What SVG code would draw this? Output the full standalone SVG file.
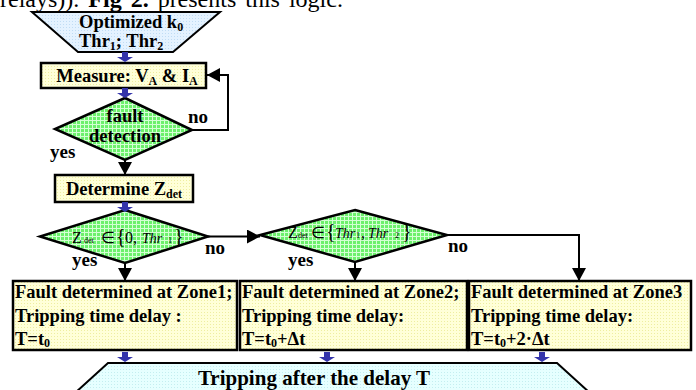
<svg xmlns="http://www.w3.org/2000/svg" width="696" height="390" viewBox="0 0 696 390">
  <defs>
    <pattern id="gridGreen" width="4" height="4" patternUnits="userSpaceOnUse">
      <rect width="4" height="4" fill="#6cf06c"/>
      <path d="M0,0.5 H4 M0.5,0 V4" stroke="#d4ffd4" stroke-width="1"/>
    </pattern>
    <pattern id="dotYellow" width="3" height="3" patternUnits="userSpaceOnUse">
      <rect width="3" height="3" fill="#ffffd8"/>
      <rect x="0" y="0" width="1" height="1" fill="#eeeea0"/>
    </pattern>
    <pattern id="dotBlue" width="3" height="3" patternUnits="userSpaceOnUse">
      <rect width="3" height="3" fill="#e4f2ff"/>
      <rect x="0" y="0" width="1" height="1" fill="#c0dcf4"/>
    </pattern>
    <pattern id="dotCyan" width="3" height="3" patternUnits="userSpaceOnUse">
      <rect width="3" height="3" fill="#e6ffff"/>
      <rect x="0" y="0" width="1" height="1" fill="#c4eef0"/>
    </pattern>
    <marker id="head" markerUnits="userSpaceOnUse" markerWidth="14" markerHeight="14" refX="13" refY="7" orient="auto">
      <path d="M0,0 L13,7 L0,14 z" fill="#000"/>
    </marker>
    <path id="flow" d="M-3,0 H3 V5 H8 L0,10 L-8,5 H-3 z" fill="#3333aa"/>
  </defs>
  <style>
    text { font-family: "Liberation Serif", "Times New Roman", serif; fill: #000; }
    .b { font-weight: bold; font-size: 18.5px; }
    .yn { font-weight: bold; font-size: 19px; }
    .c { text-anchor: middle; }
    .s { font-size: 12px; }
    .box { stroke: #000; stroke-width: 2.5; }
    .dia { fill: url(#gridGreen); stroke: #000; stroke-width: 2.5; stroke-linejoin: miter; }
    .wire { fill: none; stroke: #000; stroke-width: 2; marker-end: url(#head); }
    .m { font-size: 16px; }
    .mi { font-size: 14px; font-style: italic; }
    .sub { font-size: 8px; }
    .br { font-size: 20px; }
  </style>

  <!-- running text line above the chart -->
  <text x="0" y="7" font-size="24" word-spacing="3">relays)). <tspan font-weight="bold">Fig 2.</tspan> presents this logic.</text>

  <!-- start: optimized parameters -->
  <g id="start">
    <polygon points="32,12 220,12 173,52 78,52" fill="url(#dotBlue)" stroke="#000" stroke-width="2"/>
    <text class="b" x="79" y="28">Optimized k<tspan class="s" dy="3">0</tspan></text>
    <text class="b" x="79" y="47">Thr<tspan class="s" dy="3">1</tspan><tspan dy="-3">; Thr</tspan><tspan class="s" dy="3">2</tspan></text>
  </g>

  <g id="measure">
    <rect class="box" x="41" y="63" width="165" height="25" fill="url(#dotYellow)"/>
    <text class="b c" x="127" y="82">Measure: V<tspan class="s" dy="3">A</tspan><tspan dy="-3"> &amp; I</tspan><tspan class="s" dy="3">A</tspan></text>
  </g>

  <g id="faultDetection">
    <polygon class="dia" points="125,98 192,130 125,160 55,129"/>
    <text class="b c" x="125" y="122">fault</text>
    <text class="b c" x="125" y="142">detection</text>
  </g>

  <g id="determine">
    <rect class="box" x="55" y="175" width="138" height="27" fill="url(#dotYellow)"/>
    <text class="b c" x="124" y="195">Determine Z<tspan class="s" dy="3">det</tspan></text>
  </g>

  <g id="zone1Check">
    <polygon class="dia" points="125,210 208,236.5 125,263 40,236.5"/>
    <text y="243"><tspan class="m" x="72">Z</tspan><tspan class="sub" x="84">det</tspan><tspan class="m" x="101">∈</tspan><tspan class="br" x="116">{</tspan><tspan class="m" x="125">0</tspan><tspan class="m" x="133">,</tspan><tspan class="mi" x="142">Thr</tspan><tspan class="sub" x="168">1</tspan><tspan class="br" x="174">}</tspan></text>
  </g>

  <g id="zone2Check">
    <polygon class="dia" points="355,210 447,235 355,262 260,235"/>
    <text y="238"><tspan class="m" x="288">Z</tspan><tspan class="sub" x="298">det</tspan><tspan class="m" x="311">∈</tspan><tspan class="br" x="326">{</tspan><tspan class="mi" x="335">Thr</tspan><tspan class="sub" x="356">1</tspan><tspan class="m" x="361">,</tspan><tspan class="mi" x="368">Thr</tspan><tspan class="sub" x="395">2</tspan><tspan class="br" x="402">}</tspan></text>
  </g>

  <g id="zone1">
    <rect class="box" x="13" y="281" width="224" height="69" fill="url(#dotYellow)"/>
    <text class="b" x="15" y="298">Fault determined at Zone1;</text>
    <text class="b" x="15" y="322">Tripping time delay :</text>
    <text class="b" x="15" y="345">T=t<tspan class="s" dy="2">0</tspan></text>
  </g>

  <g id="zone2">
    <rect class="box" x="240" y="281" width="227" height="69" fill="url(#dotYellow)"/>
    <text class="b" x="242" y="298">Fault determined at Zone2;</text>
    <text class="b" x="242" y="322">Tripping time delay:</text>
    <text class="b" x="242" y="345">T=t<tspan class="s" dy="2">0</tspan><tspan dy="-2">+Δt</tspan></text>
  </g>

  <g id="zone3">
    <rect class="box" x="469" y="281" width="222" height="69" fill="url(#dotYellow)"/>
    <text class="b" x="471" y="298">Fault determined at Zone3</text>
    <text class="b" x="471" y="322">Tripping time delay:</text>
    <text class="b" x="471" y="345">T=t<tspan class="s" dy="2">0</tspan><tspan dy="-2">+2·Δt</tspan></text>
  </g>

  <g id="trip">
    <polygon points="108,363 557,363 590,393 75,393" fill="url(#dotCyan)" stroke="#000" stroke-width="2"/>
    <text class="c" x="314" y="385" font-size="21" font-weight="bold">Tripping after the delay T</text>
  </g>

  <g id="connectors">
    <use href="#flow" x="125" y="52"/>
    <use href="#flow" x="125" y="88"/>
    <use href="#flow" x="125" y="202"/>
    <use href="#flow" x="125" y="352"/>
    <use href="#flow" x="327" y="352"/>
    <use href="#flow" x="542" y="352"/>
    <path class="wire" d="M192,130 H228 V75 H207"/>
    <path class="wire" d="M125,160 V175"/>
    <path class="wire" d="M125,263 V281"/>
    <path class="wire" d="M208,236.5 H260"/>
    <path class="wire" d="M355,262 V281"/>
    <path class="wire" d="M447,235 H579 V281"/>
    <text class="yn" x="188" y="123">no</text>
    <text class="yn" x="50" y="158">yes</text>
    <text class="yn" x="205" y="254">no</text>
    <text class="yn" x="72" y="266">yes</text>
    <text class="yn" x="288" y="266">yes</text>
    <text class="yn" x="448" y="252">no</text>
  </g>
</svg>
